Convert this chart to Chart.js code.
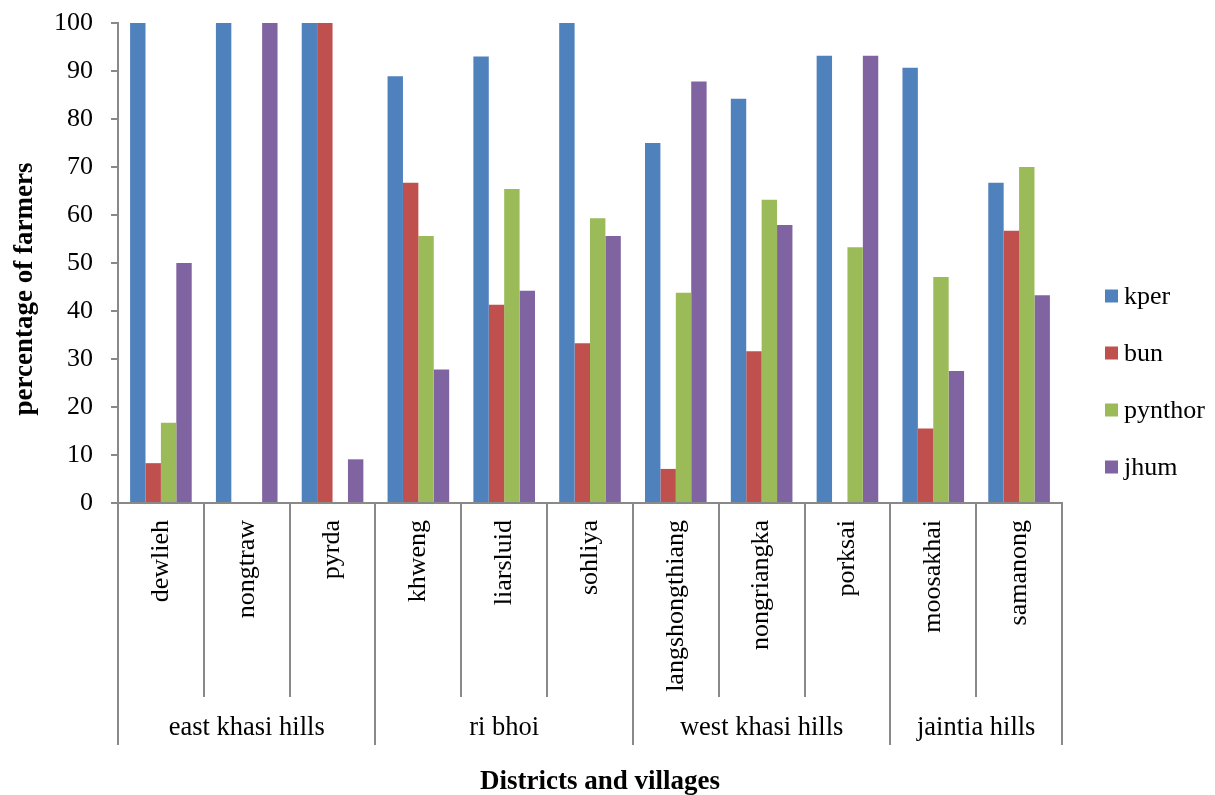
<!DOCTYPE html>
<html>
<head>
<meta charset="utf-8">
<script src="https://cdn.jsdelivr.net/npm/chart.js@4.4.1/dist/chart.umd.min.js"></script>
<style>
  html, body { margin: 0; padding: 0; background: #fff; }
</style>
</head>
<body>
<canvas id="chart" width="1215" height="795"></canvas>
<script>
// villages, grouped by district
const villages = ['dewlieh', 'nongtraw', 'pyrda', 'khweng', 'liarsluid', 'sohliya',
                  'langshongthiang', 'nongriangka', 'porksai', 'moosakhai', 'samanong'];
const districts = ['east khasi hills', 'ri bhoi', 'west khasi hills', 'jaintia hills'];
const districtSizes = [3, 3, 3, 2];

// percentage of farmers per practice
const kper    = [100, 100, 100, 88.9, 93.0, 100, 75.0, 84.2, 93.2, 90.7, 66.7];
const bun     = [8.3, 0, 100, 66.7, 41.3, 33.3, 7.1, 31.6, 0, 15.5, 56.7];
const pynthor = [16.7, 0, 0, 55.6, 65.4, 59.3, 43.8, 63.2, 53.3, 47.1, 70.0];
const jhum    = [50.0, 100, 9.1, 27.8, 44.2, 55.6, 87.8, 57.9, 93.2, 27.5, 43.3];

const yMin = 0, yMax = 100, yStep = 10;

const xTitle = 'Districts and villages';
const yTitle = 'percentage of farmers';

const serif = "'Times New Roman', 'Liberation Serif', serif";
const axisGray = '#898989';

// second level of the category axis, axis titles and legend
const districtAxis = {
    id: 'districtAxis',
    afterDraw(chart) {
        const ctx = chart.ctx;
        const x = chart.scales.x;
        const half = (x.getPixelForValue(1) - x.getPixelForValue(0)) / 2;
        const top = chart.chartArea.bottom;

        const edges = [0];
        districtSizes.forEach(n => edges.push(edges[edges.length - 1] + n));

        ctx.save();
        ctx.strokeStyle = axisGray;
        ctx.lineWidth = 2;
        for (let i = 0; i <= villages.length; i++) {
            const px = Math.round(x.getPixelForValue(i) - half);
            const len = edges.includes(i) ? 242 : 194;
            ctx.beginPath();
            ctx.moveTo(px, top);
            ctx.lineTo(px, top + len);
            ctx.stroke();
        }

        ctx.fillStyle = '#000';
        ctx.font = '26.5px ' + serif;
        ctx.textAlign = 'center';
        ctx.textBaseline = 'middle';
        districts.forEach((d, k) => {
            const mid = (edges[k] + edges[k + 1] - 1) / 2;
            ctx.fillText(d, x.getPixelForValue(mid), top + 225);
        });

        // axis titles
        ctx.font = 'bold 27px ' + serif;
        ctx.textBaseline = 'alphabetic';
        ctx.fillText(xTitle, 600, 789);
        ctx.save();
        ctx.translate(25, 289);
        ctx.rotate(-Math.PI / 2);
        ctx.textBaseline = 'middle';
        ctx.fillText(yTitle, 0, 0);
        ctx.restore();

        // legend
        ctx.font = '26px ' + serif;
        ctx.textAlign = 'left';
        ctx.textBaseline = 'middle';
        chart.data.datasets.forEach((ds, i) => {
            const cy = 296 + i * 57;
            ctx.fillStyle = ds.backgroundColor;
            ctx.fillRect(1105, cy - 6.5, 13, 13);
            ctx.fillStyle = '#000';
            ctx.fillText(ds.label, 1124, cy + 1);
        });
        ctx.restore();
    }
};

new Chart(document.getElementById('chart'), {
    type: 'bar',
    data: {
        labels: villages,
        datasets: [
            { label: 'kper', data: kper, backgroundColor: '#4F81BD' },
            { label: 'bun', data: bun, backgroundColor: '#C0504D' },
            { label: 'pynthor', data: pynthor, backgroundColor: '#9BBB59' },
            { label: 'jhum', data: jhum, backgroundColor: '#8064A2' }
        ]
    },
    options: {
        responsive: false,
        animation: false,
        devicePixelRatio: 1,
        layout: { padding: { top: 23, right: 153, bottom: 0, left: 0 } },
        datasets: { bar: { categoryPercentage: 0.718, barPercentage: 1.0 } },
        plugins: {
            legend: { display: false },
            tooltip: { enabled: false }
        },
        scales: {
            x: {
                grid: { display: false, drawTicks: false },
                border: { display: true, color: axisGray, width: 2 },
                ticks: {
                    color: '#000',
                    font: { family: serif, size: 26 },
                    minRotation: 90,
                    maxRotation: 90,
                    padding: 17,
                    autoSkip: false
                },
                afterFit: s => {
                    s.height = 292;
                    s.paddingLeft = 0;
                    s.paddingRight = 0;
                }
            },
            y: {
                min: yMin,
                max: yMax,
                ticks: {
                    stepSize: yStep,
                    color: '#000',
                    font: { family: serif, size: 26 },
                    padding: 18
                },
                grid: {
                    drawOnChartArea: false,
                    drawTicks: true,
                    tickLength: 7,
                    color: axisGray,
                    lineWidth: 2
                },
                border: { display: true, color: axisGray, width: 2 },
                afterFit: s => {
                    s.width = 118;
                    s.paddingTop = 0;
                    s.paddingBottom = 0;
                }
            }
        }
    },
    plugins: [districtAxis]
});
</script>
</body>
</html>
